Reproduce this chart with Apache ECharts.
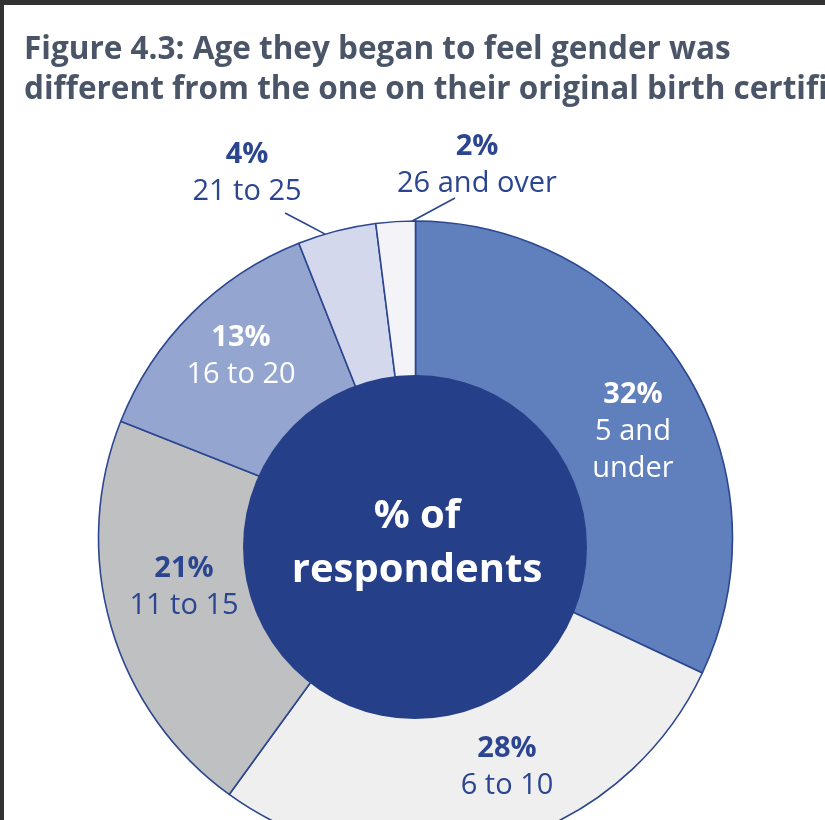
<!DOCTYPE html>
<html>
<head>
<meta charset="utf-8">
<script src="https://cdn.jsdelivr.net/npm/echarts@6/dist/echarts.min.js"></script>
<style>
  html, body { margin: 0; padding: 0; background: #ffffff; }
  #chart { width: 825px; height: 820px; }
</style>
</head>
<body>
<div id="chart"></div>
<script>
// Age at which respondents began to feel their gender differed (share of respondents, %)
const ageGroups = ['5 and\nunder', '6 to 10', '11 to 15', '16 to 20', '21 to 25', '26 and over'];
const shares = [32, 28, 21, 13, 4, 2];

const titleLines = [
  'Figure 4.3: Age they began to feel gender was',
  'different from the one on their original birth certificate'
];
const hubLines = ['% of', 'respondents'];

// Presentation
const sliceColors = ['#5f7fbd', '#efefef', '#bfc0c2', '#94a5d0', '#d3d8ec', '#f3f3f8'];
const labelTone = ['light', 'dark', 'dark', 'light', 'dark', 'dark'];
const FONT = '"Open Sans", "Noto Sans", sans-serif';
const INK = '#2b4590';
const EDGE = '#2c4690';

// Pie geometry (pixels)
const CX = 415.5, CY = 538, R = 317;
// Label block centres, relative to the pie centre
const labelSpots = [[217.5, -106], [91.5, 229], [-231.5, 49], [-174.5, -182], [-168.5, -365], [61.5, -373]];
// Leader lines: where along the slice's arc they touch, and the tail offset from the label centre
const leaders = [null, null, null, null, { at: 0.35, tail: [38, 40] }, { at: 0.92, tail: [-22, 33] }];

const total = shares.reduce((a, b) => a + b, 0);
const startDeg = [];
shares.reduce((acc, v, i) => { startDeg[i] = acc; return acc + v / total * 360; }, 0);
function polar(deg, r) {
  const t = deg * Math.PI / 180;
  return [CX + r * Math.sin(t), CY - r * Math.cos(t)];
}

const chart = echarts.init(document.getElementById('chart'), null, { renderer: 'canvas' });

const pieData = ageGroups.map((name, i) => ({
  name: name,
  value: shares[i],
  itemStyle: { color: sliceColors[i] },
  label: {
    formatter: (p) => labelTone[i] === 'light'
      ? '{pctL|' + p.value + '%}\n{nameL|' + p.name + '}'
      : '{pctD|' + p.value + '%}\n{nameD|' + p.name + '}'
  },
  labelLine: { show: !!leaders[i] }
}));

const baseRich = { fontFamily: FONT, fontSize: 29, lineHeight: 37, align: 'center' };

chart.setOption({
  backgroundColor: '#ffffff',
  animation: false,
  title: {
    text: titleLines.join('\n'),
    left: 19,
    top: 25,
    textStyle: {
      fontFamily: FONT,
      fontWeight: 'bold',
      fontSize: 31.5,
      lineHeight: 40,
      color: '#4b5568'
    }
  },
  series: [{
    type: 'pie',
    center: [CX, CY],
    radius: [0, R],
    startAngle: 90,
    clockwise: true,
    avoidLabelOverlap: false,
    silent: true,
    z: 2,
    itemStyle: { borderColor: EDGE, borderWidth: 1.6 },
    label: {
      show: true,
      position: 'outside',
      rich: {
        pctD: Object.assign({}, baseRich, { fontWeight: 'bold', color: INK }),
        nameD: Object.assign({}, baseRich, { fontWeight: 'normal', color: INK }),
        pctL: Object.assign({}, baseRich, { fontWeight: 'bold', color: '#ffffff' }),
        nameL: Object.assign({}, baseRich, { fontWeight: 'normal', color: '#ffffff' })
      }
    },
    labelLine: {
      length: 10,
      length2: 10,
      smooth: false,
      lineStyle: { color: EDGE, width: 1.6 }
    },
    labelLayout: function (p) {
      const i = p.dataIndex;
      const x = CX + labelSpots[i][0];
      const y = CY + labelSpots[i][1];
      const out = { x: x, y: y, align: 'center', verticalAlign: 'middle' };
      const lead = leaders[i];
      if (lead) {
        const a = startDeg[i] + lead.at * shares[i] / total * 360;
        const tip = polar(a, R);
        const tail = [x + lead.tail[0], y + lead.tail[1]];
        out.labelLinePoints = [tail, [(tail[0] + tip[0]) / 2, (tail[1] + tip[1]) / 2], tip];
      }
      return out;
    },
    data: pieData
  }],
  graphic: [
    {
      type: 'circle',
      z: 20,
      silent: true,
      shape: { cx: 415, cy: 547, r: 172 },
      style: { fill: '#253f89' }
    },
    {
      type: 'text',
      z: 21,
      silent: true,
      style: {
        text: hubLines.join('\n'),
        x: 417,
        y: 544,
        align: 'center',
        verticalAlign: 'middle',
        font: 'bold 40px ' + FONT,
        lineHeight: 54,
        fill: '#ffffff'
      }
    },
    // dark frame along the top and left edges
    { type: 'rect', z: 30, silent: true, shape: { x: 0, y: 0, width: 825, height: 5 }, style: { fill: '#323232' } },
    { type: 'rect', z: 30, silent: true, shape: { x: 0, y: 0, width: 4, height: 820 }, style: { fill: '#323232' } }
  ]
});
</script>
</body>
</html>
